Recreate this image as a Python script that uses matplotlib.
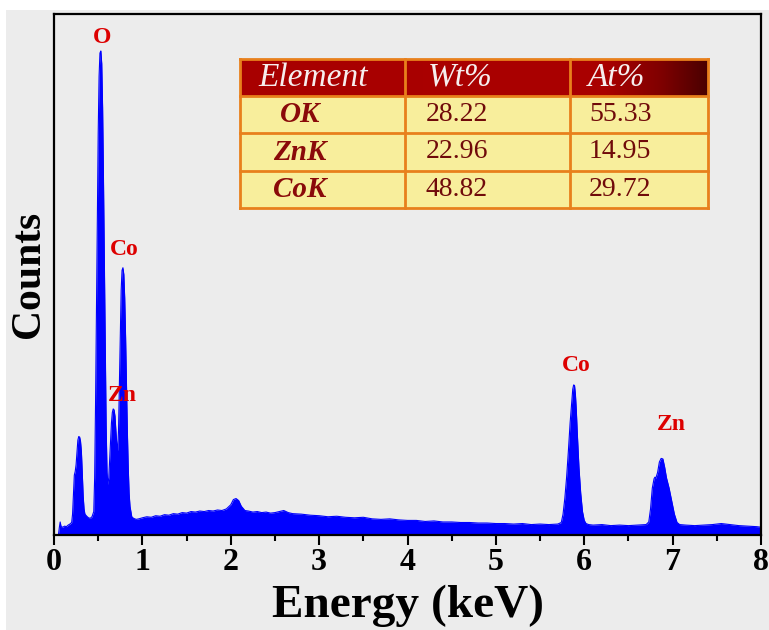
import matplotlib
matplotlib.use("Agg")
import matplotlib.pyplot as plt
from matplotlib.patches import Rectangle
from matplotlib.colors import LinearSegmentedColormap
import numpy as np

# EDS spectrum (keV, counts in arbitrary units)
energy = [
    0.05, 0.06, 0.07, 0.08, 0.10, 0.12, 0.14, 0.16, 0.18, 0.20,
    0.21, 0.22, 0.23, 0.24, 0.25, 0.26, 0.27, 0.28, 0.29, 0.30,
    0.31, 0.32, 0.33, 0.34, 0.35, 0.37, 0.39, 0.41, 0.43, 0.45,
    0.46, 0.47, 0.48, 0.49, 0.50, 0.51, 0.52, 0.53, 0.54, 0.55,
    0.56, 0.57, 0.58, 0.59, 0.60, 0.61, 0.62, 0.63, 0.64, 0.65,
    0.66, 0.67, 0.68, 0.69, 0.70, 0.71, 0.72, 0.73, 0.74, 0.75,
    0.76, 0.77, 0.78, 0.79, 0.80, 0.81, 0.82, 0.83, 0.84, 0.85,
    0.86, 0.88, 0.90, 0.93, 0.96, 1.00, 1.05, 1.10, 1.15, 1.20,
    1.25, 1.30, 1.35, 1.40, 1.45, 1.50, 1.55, 1.60, 1.65, 1.70,
    1.75, 1.80, 1.85, 1.90, 1.95, 2.00, 2.03, 2.06, 2.09, 2.12,
    2.16, 2.20, 2.25, 2.30, 2.35, 2.40, 2.45, 2.50, 2.55, 2.60,
    2.65, 2.70, 2.80, 2.90, 3.00, 3.10, 3.20, 3.30, 3.40, 3.50,
    3.60, 3.70, 3.80, 3.90, 4.00, 4.10, 4.20, 4.30, 4.40, 4.50,
    4.60, 4.70, 4.80, 4.90, 5.00, 5.10, 5.20, 5.30, 5.40, 5.50,
    5.60, 5.70, 5.74, 5.76, 5.78, 5.80, 5.82, 5.84, 5.86, 5.87,
    5.88, 5.89, 5.90, 5.91, 5.92, 5.94, 5.96, 5.98, 6.00, 6.02,
    6.05, 6.10, 6.20, 6.30, 6.40, 6.50, 6.60, 6.70, 6.73, 6.75,
    6.77, 6.79, 6.80, 6.81, 6.83, 6.85, 6.87, 6.89, 6.91, 6.93,
    6.96, 6.99, 7.02, 7.05, 7.08, 7.15, 7.25, 7.35, 7.45, 7.55,
    7.60, 7.65, 7.75, 7.85, 7.95, 8.00,
]
counts = [
    0, 14, 25, 16, 15, 17, 16, 19, 21, 24,
    40, 80, 115, 122, 135, 160, 182, 189, 188, 180,
    160, 120, 75, 50, 40, 36, 33, 32, 35, 45,
    110, 250, 420, 600, 770, 880, 925, 929, 905, 820,
    680, 520, 360, 210, 120, 97, 110, 145, 180, 215,
    235, 242, 240, 228, 200, 175, 162, 200, 290, 390,
    470, 508, 513, 500, 455, 380, 290, 200, 130, 80,
    55, 35, 32, 30, 31, 33, 35, 34, 37, 36,
    39, 38, 41, 40, 43, 42, 45, 44, 46, 45,
    47, 46, 48, 47, 50, 58, 68, 70, 66, 55,
    47, 46, 44, 45, 43, 44, 42, 43, 45, 47,
    43, 41, 40, 38, 37, 35, 36, 34, 33, 34,
    31, 30, 31, 29, 28, 28, 26, 27, 25, 25,
    24, 24, 23, 23, 22, 22, 21, 22, 20, 21,
    20, 21, 24, 40, 70, 110, 160, 215, 260, 280,
    288, 287, 270, 240, 200, 130, 80, 45, 28, 22,
    20, 19, 20, 18, 19, 18, 19, 20, 25, 50,
    90, 108, 111, 109, 120, 140, 147, 146, 130, 110,
    90, 65, 40, 24, 20, 19, 18, 19, 20, 22,
    21, 20, 18, 17, 16, 15,
]

# peak labels
peak_names = ["O", "Co", "Zn", "Co", "Zn"]
peak_x = [0.543, 0.79, 0.77, 5.91, 6.99]
peak_y = [954, 548, 267, 326, 212]

# composition table
col_labels = ["Element", "Wt%", "At%"]
elements = ["OK", "ZnK", "CoK"]
wt_pct = ["28.22", "22.96", "48.82"]
at_pct = ["55.33", "14.95", "29.72"]

W, H = 769, 630
serif = ["Liberation Serif", "DejaVu Serif"]
plt.rcParams["font.family"] = serif

fig = plt.figure(figsize=(W / 100, H / 100), dpi=100, facecolor="white")
# grey page behind the plot (white margin at top and left)
fig.patches.append(Rectangle((6 / W, 0), 1, 1 - 10 / H, transform=fig.transFigure,
                             facecolor="#ececec", edgecolor="none", zorder=-10))

ax = fig.add_axes([54 / W, 1 - 535 / H, (761 - 54) / W, (535 - 14) / H])
ax.set_facecolor("#ececec")
ax.fill_between(energy, counts, 0, color="#0000ff", lw=0)
ax.plot(energy, counts, color="#0000ff", lw=0.8)

ax.set_xlim(0, 8)
ax.set_ylim(0, 1000)
ax.set_xticks(range(0, 9))
ax.set_xticks(np.arange(0.5, 8, 1.0), minor=True)
ax.set_yticks([])
ax.tick_params(axis="x", which="major", direction="out", length=7, width=1.5,
               pad=2, labelsize=23)
ax.tick_params(axis="x", which="minor", direction="out", length=4, width=1.5)
for lab in ax.get_xticklabels():
    lab.set_fontweight("bold")
for sp in ax.spines.values():
    sp.set_linewidth(1.6)
    sp.set_color("black")

ax.set_xlabel("Energy (keV)", fontsize=34, fontweight="bold", labelpad=6)
ax.set_ylabel("Counts", fontsize=30, fontweight="bold", labelpad=4)

for name, x, y in zip(peak_names, peak_x, peak_y):
    ax.text(x, y, name, color="#dd0000", fontsize=17, fontweight="bold",
            ha="center", va="center")

# table drawn in pixel coordinates on an overlay axes
tab = fig.add_axes([0, 0, 1, 1])
tab.set_xlim(0, W)
tab.set_ylim(H, 0)
tab.axis("off")

cols = [240, 405, 570, 708]
rows = [59, 96, 133, 171, 208]
border = "#e8801c"

cmap = LinearSegmentedColormap.from_list(
    "hdr", [(0, "#a80000"), (0.78, "#aa0000"), (0.9, "#800000"), (1, "#4a0000")])
grad = np.linspace(0, 1, 256).reshape(1, -1)
tab.imshow(grad, cmap=cmap, aspect="auto",
           extent=[cols[0], cols[-1], rows[1], rows[0]], zorder=1)
tab.add_patch(Rectangle((cols[0], rows[1]), cols[-1] - cols[0], rows[-1] - rows[1],
                        facecolor="#f8ee9c", edgecolor="none", zorder=1))
for x in cols:
    tab.plot([x, x], [rows[0], rows[-1]], color=border, lw=2, zorder=2)
for y in rows:
    tab.plot([cols[0], cols[-1]], [y, y], color=border, lw=2, zorder=2)

hy = (rows[0] + rows[1]) / 2
tab.text(313, hy, col_labels[0], fontsize=24, style="italic", color="#f6eeee",
         ha="center", va="center", zorder=3)
tab.text(428, hy, col_labels[1], fontsize=24, style="italic", color="#f6eeee",
         ha="left", va="center", zorder=3)
tab.text(588, hy, col_labels[2], fontsize=24, style="italic", color="#f6eeee",
         ha="left", va="center", zorder=3)

for i in range(3):
    cy = (rows[i + 1] + rows[i + 2]) / 2
    tab.text(300, cy, elements[i], fontsize=21, style="italic", fontweight="bold",
             color="#8a0a0a", ha="center", va="center", zorder=3)
    tab.text(426, cy, wt_pct[i], fontsize=20, color="#700a0a",
             ha="left", va="center", zorder=3)
    tab.text(589, cy, at_pct[i], fontsize=20, color="#700a0a",
             ha="left", va="center", zorder=3)

fig.savefig("out.png", dpi=100, facecolor=fig.get_facecolor())
